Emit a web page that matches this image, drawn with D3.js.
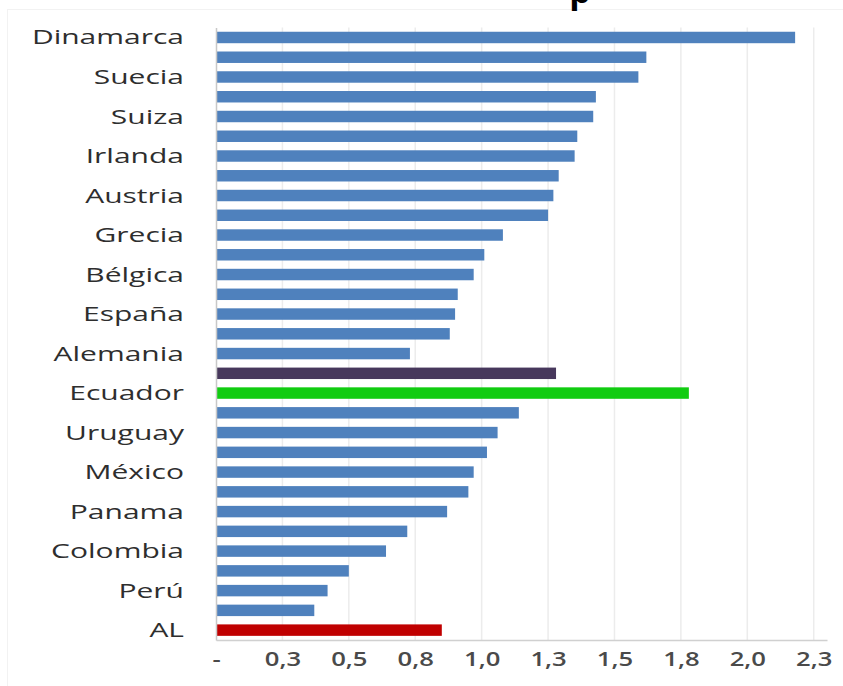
<!DOCTYPE html>
<html>
<head>
<meta charset="utf-8">
<script src="https://cdn.jsdelivr.net/npm/d3@7"></script>
<style>
  body { margin: 0; background: #ffffff; }
  svg { display: block; }
</style>
</head>
<body>
<div id="chart"></div>
<script>
// Country labels (only every other bar carries a label in the original)
let countries = [
  "Dinamarca", "", "Suecia", "", "Suiza", "", "Irlanda", "", "Austria", "",
  "Grecia", "", "Bélgica", "", "España", "", "Alemania", "", "Ecuador", "",
  "Uruguay", "", "México", "", "Panama", "", "Colombia", "", "Perú", "", "AL"
];

// bar values
let values = [
  2.18, 1.62, 1.59, 1.43, 1.42, 1.36, 1.35, 1.29, 1.27, 1.25,
  1.08, 1.01, 0.97, 0.91, 0.90, 0.88, 0.73, 1.28, 1.78, 1.14,
  1.06, 1.02, 0.97, 0.95, 0.87, 0.72, 0.64, 0.50, 0.42, 0.37, 0.85
];

// special highlighted bars (index -> colour), everything else is blue
let highlights = { 17: "#47385c", 18: "#11cc11", 30: "#c00000" };

let tickValues = [0, 0.25, 0.5, 0.75, 1.0, 1.25, 1.5, 1.75, 2.0, 2.25];
let tickLabels = ["-", "0,3", "0,5", "0,8", "1,0", "1,3", "1,5", "1,8", "2,0", "2,3"];

let title = "p";

////////////////////////////////////////////////////////////////////////

let width = 843;
let height = 686;
let plotLeft = 216, plotRight = 827, plotTop = 27.6, plotBottom = 640;

let svg = d3.select("#chart")
  .append("svg")
  .attr("width", width).attr("height", height);

let xScale = d3.scaleLinear()
  .domain([0, 2.3])
  .range([plotLeft, plotRight]);

let yScale = d3.scaleBand()
  .domain(d3.range(countries.length))
  .range([plotTop, plotBottom])
  .paddingInner(0.42)
  .paddingOuter(0.21);

// faint outer frame of the chart area
svg.append("rect")
  .attr("x", 7.5).attr("y", 9.5)
  .attr("width", 850).attr("height", 700)
  .attr("fill", "none")
  .attr("stroke", "#f2f2f2");

// cropped title (only the bottom of it is inside the picture)
svg.append("text")
  .attr("x", 580).attr("y", 3)
  .attr("text-anchor", "middle")
  .style("font-family", "'Open Sans', sans-serif")
  .style("font-weight", "bold")
  .style("font-size", "34px")
  .style("fill", "#000")
  .text(title);

// vertical gridlines
svg.append("g")
  .selectAll(".grid")
  .data(tickValues.slice(1))
  .enter()
  .append("line")
  .attr("class", "grid")
  .attr("x1", d => xScale(d)).attr("x2", d => xScale(d))
  .attr("y1", plotTop).attr("y2", plotBottom)
  .attr("stroke", "#ececec")
  .attr("stroke-width", 1.5);

// bars
svg.append("g")
  .selectAll(".bar")
  .data(values)
  .enter()
  .append("rect")
  .attr("class", "bar")
  .attr("x", xScale(0))
  .attr("y", (d, i) => yScale(i))
  .attr("width", d => xScale(d) - xScale(0))
  .attr("height", yScale.bandwidth())
  .attr("fill", (d, i) => highlights[i] || "#4f81bd");

// y axis (category labels)
let yAxis = d3.axisLeft(yScale)
  .tickSize(0)
  .tickPadding(0)
  .tickFormat(i => countries[i]);

let gy = svg.append("g")
  .attr("transform", "translate(" + xScale(0) + ",0)")
  .call(yAxis);
gy.select(".domain").attr("stroke", "#c8c8c8").attr("stroke-width", 1.5);
gy.selectAll("text")
  .attr("x", 0)
  .attr("dy", "0.35em")
  .attr("transform", "translate(-32,0) scale(1.5,1)")
  .style("font-family", "'Open Sans', sans-serif")
  .style("font-size", "20px")
  .style("fill", "#2e2e2e");

// x axis
let xAxis = d3.axisBottom(xScale)
  .tickValues(tickValues)
  .tickSize(0)
  .tickPadding(13)
  .tickFormat((d, i) => tickLabels[i]);

let gx = svg.append("g")
  .attr("transform", "translate(0," + plotBottom + ")")
  .call(xAxis);
gx.select(".domain").attr("stroke", "#d0d0d0").attr("stroke-width", 1.5);
gx.selectAll("text")
  .attr("transform", "scale(1.35,1)")
  .style("font-family", "'Open Sans', sans-serif")
  .style("font-weight", "600")
  .style("font-size", "19px")
  .style("fill", "#4a4a4a");
</script>
</body>
</html>
